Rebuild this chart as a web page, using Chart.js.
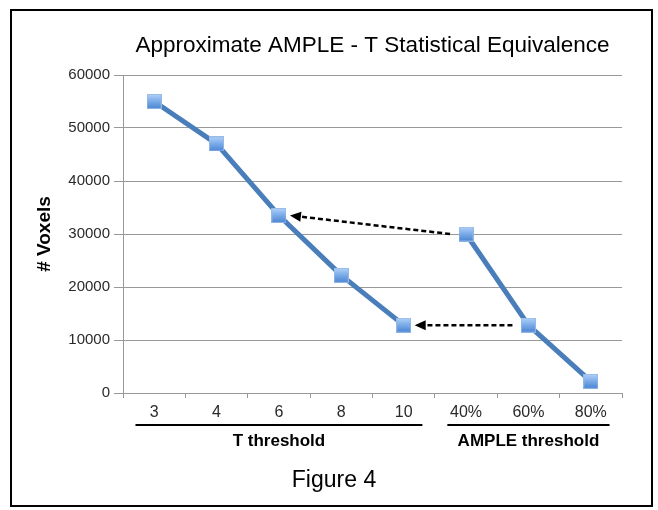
<!DOCTYPE html>
<html>
<head>
<meta charset="utf-8">
<script src="https://cdn.jsdelivr.net/npm/chart.js@4/dist/chart.umd.min.js"></script>
<style>
  html, body { margin: 0; padding: 0; background: #ffffff; }
  #wrap { position: relative; width: 658px; height: 510px; }
  canvas { display: block; }
</style>
</head>
<body>
<div id="wrap"><canvas id="chart" width="658" height="510"></canvas></div>
<script>
// Threshold categories along the x axis
const tThresholds = ['3', '4', '6', '8', '10'];
const ampleThresholds = ['40%', '60%', '80%'];

// Number of supra-threshold voxels at each threshold
const tVoxels = [55000, 47000, 33500, 22200, 12800];
const ampleVoxels = [30000, 12800, 2200];

// y axis ticks
const yMin = 0;
const yMax = 60000;
const yStep = 10000;

// Text
const chartTitle = 'Approximate AMPLE - T Statistical Equivalence';
const yAxisTitle = '# Voxels';
const groupTitles = ['T threshold', 'AMPLE threshold'];
const caption = 'Figure 4';

// Equivalent thresholds: arrow from an AMPLE threshold to a T threshold
const equivalences = [['40%', '6'], ['60%', '10']];

const FONT = '"Liberation Sans", Arial, Helvetica, sans-serif';
const LINE_BLUE = 'rgb(74,126,187)';

const labels = [...tThresholds, ...ampleThresholds];
const tSeries = [...tVoxels, ...ampleThresholds.map(() => null)];
const ampleSeries = [...tThresholds.map(() => null), ...ampleVoxels];

// Square marker with a light-to-dark blue gradient
function makeMarker(size) {
  const c = document.createElement('canvas');
  c.width = size; c.height = size;
  const g = c.getContext('2d');
  const grad = g.createLinearGradient(0, 0, 0, size);
  grad.addColorStop(0, '#b4d3fa');
  grad.addColorStop(0.45, '#7eaeea');
  grad.addColorStop(1, '#4a83d2');
  g.fillStyle = grad;
  g.fillRect(0, 0, size, size);
  g.strokeStyle = 'rgba(150,185,230,0.9)';
  g.lineWidth = 1;
  g.strokeRect(0.5, 0.5, size - 1, size - 1);
  return c;
}
const marker = makeMarker(15);

function valueOf(cat) {
  const ti = tThresholds.indexOf(cat);
  if (ti >= 0) return tVoxels[ti];
  return ampleVoxels[ampleThresholds.indexOf(cat)];
}

const extras = {
  id: 'extras',
  beforeDraw(chart) {
    const ctx = chart.ctx;
    ctx.save();
    ctx.fillStyle = '#ffffff';
    ctx.fillRect(0, 0, chart.width, chart.height);
    ctx.restore();
  },
  afterDatasetsDraw(chart) {
    const ctx = chart.ctx;
    const x = chart.scales.x, y = chart.scales.y;
    ctx.save();
    equivalences.forEach(([from, to]) => {
      const fx = x.getPixelForValue(labels.indexOf(from)) - 16;
      const fy = y.getPixelForValue(valueOf(from));
      const tx = x.getPixelForValue(labels.indexOf(to)) + 11;
      const ty = y.getPixelForValue(valueOf(to));
      const ang = Math.atan2(ty - fy, tx - fx);
      const headLen = 11, headHalf = 5;
      const bx = tx - headLen * Math.cos(ang);
      const by = ty - headLen * Math.sin(ang);
      ctx.strokeStyle = '#000000';
      ctx.lineWidth = 2.5;
      ctx.setLineDash([5, 3]);
      ctx.beginPath();
      ctx.moveTo(fx, fy);
      ctx.lineTo(bx, by);
      ctx.stroke();
      ctx.setLineDash([]);
      ctx.fillStyle = '#000000';
      ctx.beginPath();
      ctx.moveTo(tx, ty);
      ctx.lineTo(bx + headHalf * Math.sin(ang), by - headHalf * Math.cos(ang));
      ctx.lineTo(bx - headHalf * Math.sin(ang), by + headHalf * Math.cos(ang));
      ctx.closePath();
      ctx.fill();
    });
    ctx.restore();
  },
  afterDraw(chart) {
    const ctx = chart.ctx;
    const x = chart.scales.x;
    const step = x.getPixelForValue(1) - x.getPixelForValue(0);
    const groups = [
      [0, tThresholds.length - 1, groupTitles[0]],
      [tThresholds.length, labels.length - 1, groupTitles[1]]
    ];
    ctx.save();
    groups.forEach(([a, b, text]) => {
      const left = x.getPixelForValue(a) - 0.3 * step;
      const right = x.getPixelForValue(b) + 0.3 * step;
      ctx.strokeStyle = '#000000';
      ctx.lineWidth = 2;
      ctx.beginPath();
      ctx.moveTo(left, 425);
      ctx.lineTo(right, 425);
      ctx.stroke();
      ctx.fillStyle = '#000000';
      ctx.font = 'bold 17px ' + FONT;
      ctx.textAlign = 'center';
      ctx.textBaseline = 'middle';
      ctx.fillText(text, (left + right) / 2, 441);
    });
    ctx.font = '23px ' + FONT;
    ctx.fillStyle = '#000000';
    ctx.textAlign = 'center';
    ctx.textBaseline = 'middle';
    ctx.fillText(caption, 334, 481);
    // frame
    ctx.strokeStyle = '#000000';
    ctx.lineWidth = 2;
    ctx.strokeRect(11, 10, 641, 496);
    ctx.restore();
  }
};

new Chart(document.getElementById('chart'), {
  type: 'line',
  data: {
    labels: labels,
    datasets: [
      {
        data: tSeries,
        borderColor: LINE_BLUE,
        borderWidth: 5,
        borderJoinStyle: 'round',
        pointStyle: marker,
        pointRadius: 7,
        spanGaps: false,
        tension: 0
      },
      {
        data: ampleSeries,
        borderColor: LINE_BLUE,
        borderWidth: 5,
        borderJoinStyle: 'round',
        pointStyle: marker,
        pointRadius: 7,
        spanGaps: false,
        tension: 0
      }
    ]
  },
  options: {
    responsive: false,
    animation: false,
    events: [],
    layout: { padding: { left: 13, right: 36, top: 12, bottom: 87 } },
    plugins: {
      legend: { display: false },
      tooltip: { enabled: false },
      title: {
        display: true,
        text: chartTitle,
        fullSize: false,
        color: '#000000',
        font: { family: FONT, size: 22.5, weight: 'normal' },
        padding: { top: 20, bottom: 16 }
      }
    },
    scales: {
      x: {
        type: 'category',
        offset: true,
        afterFit(scale) { scale.height = 30; },
        grid: {
          offset: true,
          drawOnChartArea: false,
          drawTicks: true,
          tickLength: 5,
          color: '#999999',
          lineWidth: 1
        },
        border: { display: true, color: '#999999', width: 1 },
        ticks: {
          color: '#2a2a2a',
          font: { family: FONT, size: 16 },
          padding: 5,
          maxRotation: 0,
          autoSkip: false
        }
      },
      y: {
        min: yMin,
        max: yMax,
        afterFit(scale) { scale.width = 110; },
        grid: {
          drawTicks: true,
          tickLength: 9,
          color: '#999999',
          lineWidth: 1
        },
        border: { display: true, color: '#999999', width: 1 },
        ticks: {
          stepSize: yStep,
          color: '#2a2a2a',
          font: { family: FONT, size: 15 },
          padding: 4,
          callback: (v) => String(v)
        },
        title: {
          display: true,
          text: yAxisTitle,
          color: '#000000',
          font: { family: FONT, size: 19, weight: 'bold' },
          padding: { top: 20, bottom: 0 }
        }
      }
    }
  },
  plugins: [extras]
});
</script>
</body>
</html>
